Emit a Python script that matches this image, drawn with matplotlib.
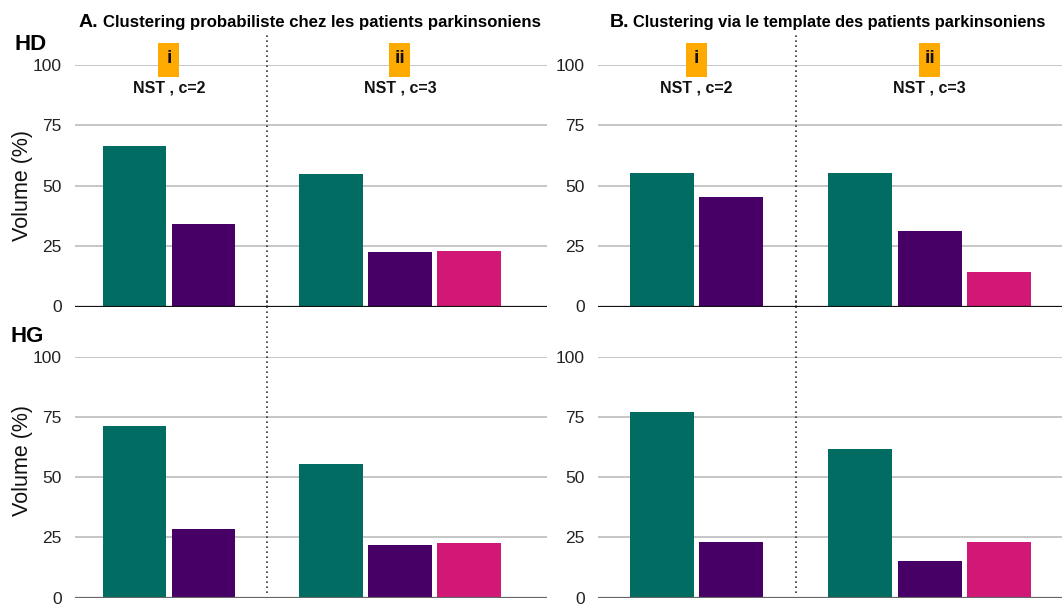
import matplotlib
matplotlib.use("Agg")
import matplotlib.pyplot as plt
from matplotlib.patches import Rectangle

plt.rcParams["font.family"] = ["Liberation Sans", "DejaVu Sans"]

# --- data (Volume %) ---
rows = ["HD", "HG"]
group_tags = ["i", "ii"]
group_titles = ["NST , c=2", "NST , c=3"]
panel_letters = ["A.", "B."]
panel_titles = [
    "Clustering probabiliste chez les patients parkinsoniens",
    "Clustering via le template des patients parkinsoniens",
]
cluster_colors = ["#006C62", "#460066", "#D21876"]

hd_prob_c2 = [66.4, 34.0]
hd_prob_c3 = [54.8, 22.4, 22.8]
hg_prob_c2 = [71.2, 28.4]
hg_prob_c3 = [55.4, 21.7, 22.6]
hd_tmpl_c2 = [55.2, 45.2]
hd_tmpl_c3 = [55.2, 31.1, 14.1]
hg_tmpl_c2 = [77.0, 23.0]
hg_tmpl_c3 = [61.6, 15.1, 23.0]

yticks = [0, 25, 50, 75, 100]

# --- layout (pixels) ---
W, H = 1062, 608
fig = plt.figure(figsize=(W / 100, H / 100), dpi=100)


def px_axes(left, top, right, bottom):
    return fig.add_axes([left / W, 1 - bottom / H, (right - left) / W, (bottom - top) / H])


panel_boxes = [
    [(75, 65, 547, 306.5), (75, 356.7, 547, 597.5)],
    [(598, 65, 1062, 306.5), (598, 356.7, 1062, 597.5)],
]
panel_xlims = [(-0.862, 5.99), (-0.92, 5.76)]
panel_data = [
    [(hd_prob_c2, hd_prob_c3), (hg_prob_c2, hg_prob_c3)],
    [(hd_tmpl_c2, hd_tmpl_c3), (hg_tmpl_c2, hg_tmpl_c3)],
]

x_c2 = [0, 1]
x_c3 = [2.855, 3.855, 4.855]
divider_x = 1.925
bar_w = 0.92
orange = "#FFAA00"

for p in range(2):
    for r in range(2):
        left, top, right, bottom = panel_boxes[p][r]
        ax = px_axes(left, top, right, bottom)
        c2, c3 = panel_data[p][r]
        ax.bar(x_c2, c2, width=bar_w, color=cluster_colors[:2], zorder=3)
        ax.bar(x_c3, c3, width=bar_w, color=cluster_colors[:3], zorder=3)

        ax.set_xlim(*panel_xlims[p])
        ax.set_ylim(0, 100)
        ax.set_yticks(yticks)
        ax.set_xticks([])
        ax.tick_params(axis="y", length=0, pad=9.5, labelsize=12.5, labelcolor="#222222")
        for s in ax.spines.values():
            s.set_visible(False)
        ax.yaxis.grid(True, color="#c6c6c6", lw=1.4, zorder=0)
        ax.set_axisbelow(True)
        ax.axhline(0, color="#111111" if r == 0 else "#666666", lw=1.6, zorder=4)

        # dotted divider between the two groups
        if r == 0:
            ax.axvline(divider_x, ymin=0, ymax=(bottom - 33) / (bottom - top),
                       color="#333333", ls=(0, (1, 2)), lw=1.2, clip_on=False, zorder=2)
        else:
            ax.axvline(divider_x, ymin=(bottom - 593) / (bottom - top), ymax=1.25,
                       color="#333333", ls=(0, (1, 2)), lw=1.2, clip_on=False, zorder=2)

        if p == 0:
            ax.set_ylabel("Volume (%)", fontsize=15.5, color="#111111")
            yc = 0.5 if r == 0 else 0.571
            ax.yaxis.set_label_coords((33 - left) / (right - left), yc)

        if r == 0:
            # group tags and titles
            xr = ax.get_xlim()[1] - ax.get_xlim()[0]
            dx = 21 / (right - left) * xr
            dy = 34 / (bottom - top) * 100
            for cx, tag, title in zip([0.5, 3.855], group_tags, group_titles):
                ax.add_patch(Rectangle((cx - dx / 2, 102 - dy / 2), dx, dy,
                                       facecolor=orange, edgecolor="none",
                                       clip_on=False, zorder=5))
                ax.text(cx, 102.5, tag, ha="center", va="center", fontsize=14,
                        fontweight="bold", color="#111111", zorder=6)
                ax.text(cx, 90.5, title, ha="center", va="center", fontsize=11.5,
                        fontweight="bold", color="#111111")

# panel titles
letter_x = [79, 610]
title_x = [103, 633]
title_sizes = [12.1, 11.75]
for lx, tx, fs, letter, title in zip(letter_x, title_x, title_sizes,
                                      panel_letters, panel_titles):
    fig.text(lx / W, 1 - 27 / H, letter, fontsize=14, fontweight="bold",
             ha="left", va="baseline")
    fig.text(tx / W, 1 - 27 / H, title, fontsize=fs, fontweight="bold",
             ha="left", va="baseline")

# row labels
fig.text(14 / W, 1 - 50 / H, rows[0], fontsize=16, fontweight="bold", va="baseline")
fig.text(11 / W, 1 - 342 / H, rows[1], fontsize=16, fontweight="bold", va="baseline")

fig.savefig("out.png", dpi=100)
